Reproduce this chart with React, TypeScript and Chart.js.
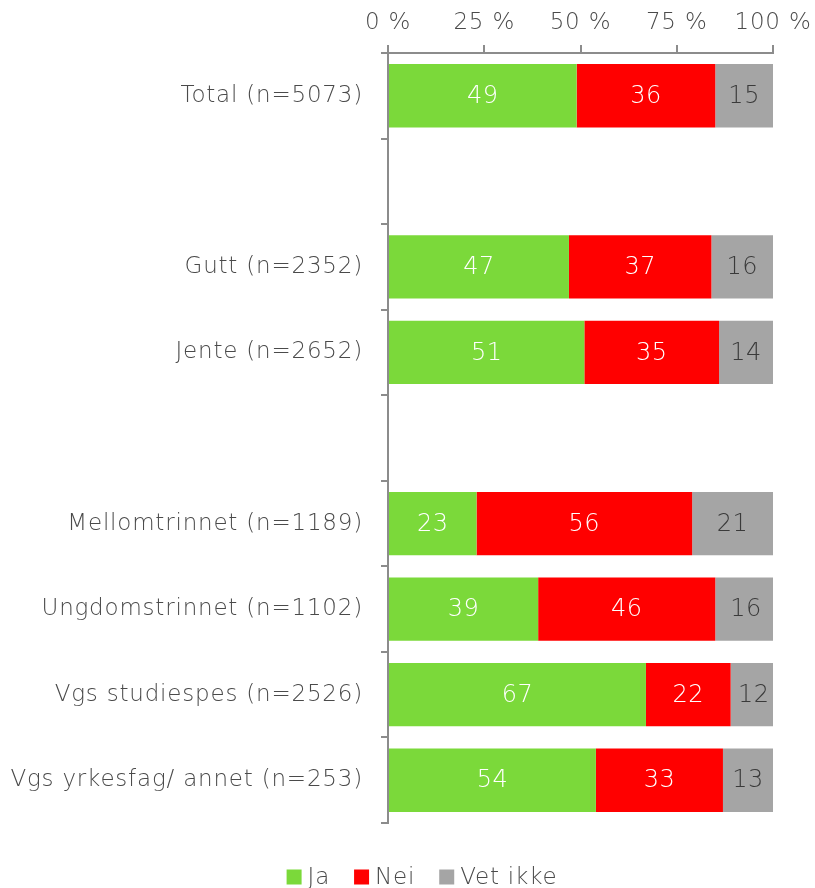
import React, { useEffect, useRef } from "react";
import { Chart, registerables } from "chart.js";

Chart.register(...registerables);

const categories = [
  "Total (n=5073)",
  "",
  "Gutt (n=2352)",
  "Jente (n=2652)",
  "",
  "Mellomtrinnet (n=1189)",
  "Ungdomstrinnet (n=1102)",
  "Vgs studiespes (n=2526)",
  "Vgs yrkesfag/ annet (n=253)",
];
const seriesNames = ["Ja", "Nei", "Vet ikke"];
const ja = [49, null, 47, 51, null, 23, 39, 67, 54];
const nei = [36, null, 37, 35, null, 56, 46, 22, 33];
const vetIkke = [15, null, 16, 14, null, 21, 16, 12, 13];
const xTicks = [0, 25, 50, 75, 100];
const colors = ["#7bd93a", "#ff0000", "#a5a5a5"];

const FONT = "'DejaVu Sans'";
const W = "200";
const TEXT = "#4a4a4a";
const SPACING = "0.8px";

const spacingPlugin = {
  id: "spacing",
  beforeDraw(chart: any) {
    chart.ctx.letterSpacing = SPACING;
  },
};

// Legend drawn from the chart's own datasets
const legendPlugin = {
  id: "customLegend",
  afterDraw(chart: any) {
    const ctx = chart.ctx;
    ctx.save();
    ctx.letterSpacing = SPACING;
    ctx.font = `${W} 23px ${FONT}`;
    ctx.textBaseline = "middle";
    ctx.textAlign = "left";
    const box = 15;
    const gapText = 6;
    const gapItem = 24;
    const items = chart.data.datasets.map((ds: any) => ({
      label: ds.label,
      color: ds.backgroundColor,
      w: ctx.measureText(ds.label).width,
    }));
    const total =
      items.reduce((a: number, it: any) => a + box + gapText + it.w, 0) + gapItem * (items.length - 1);
    const centerX = 422;
    const cy = 877;
    let x = centerX - total / 2;
    items.forEach((it: any) => {
      ctx.fillStyle = it.color;
      ctx.fillRect(x, cy - box / 2, box, box);
      ctx.fillStyle = TEXT;
      ctx.fillText(it.label, x + box + gapText, cy + 1);
      x += box + gapText + it.w + gapItem;
    });
    ctx.restore();
  },
};

const labelPlugin = {
  id: "barLabels",
  afterDatasetsDraw(chart: any) {
    const ctx = chart.ctx;
    ctx.save();
    ctx.letterSpacing = "0.5px";
    ctx.font = `${W} 24px ${FONT}`;
    ctx.textAlign = "center";
    ctx.textBaseline = "middle";
    chart.data.datasets.forEach((ds: any, di: number) => {
      const meta = chart.getDatasetMeta(di);
      meta.data.forEach((bar: any, i: number) => {
        const v = ds.data[i];
        if (v == null) return;
        const cx = (bar.x + bar.base) / 2;
        ctx.fillStyle = di === 2 ? "#3a3a3a" : "#ffffff";
        ctx.fillText(String(v), cx, bar.y + 1);
      });
    });
    ctx.restore();
  },
};

export default function App() {
  const ref = useRef<HTMLCanvasElement>(null);
  useEffect(() => {
    if (!ref.current) return;
    const chart = new Chart(ref.current, {
      type: "bar",
      data: {
        labels: categories,
        datasets: [
          { label: seriesNames[0], data: ja, backgroundColor: colors[0], borderWidth: 0 },
          { label: seriesNames[1], data: nei, backgroundColor: colors[1], borderWidth: 0 },
          { label: seriesNames[2], data: vetIkke, backgroundColor: colors[2], borderWidth: 0 },
        ] as any,
      },
      options: {
        indexAxis: "y",
        animation: false,
        responsive: false,
        maintainAspectRatio: false,
        layout: { padding: { left: 0, right: 42, top: 0, bottom: 65 } },
        datasets: { bar: { barPercentage: 0.74, categoryPercentage: 1 } } as any,
        scales: {
          x: {
            position: "top",
            stacked: true,
            min: 0,
            max: 100,
            afterBuildTicks: (s: any) => {
              s.ticks = xTicks.map((v) => ({ value: v }));
            },
            afterFit: (s: any) => {
              s.height = 53;
              s.paddingRight = 0;
              s.paddingLeft = 0;
            },
            ticks: {
              callback: (v: any) => v + " %",
              color: TEXT,
              font: { family: FONT, size: 23, weight: W },
              padding: 8,
              maxRotation: 0,
            },
            grid: { drawOnChartArea: false, tickLength: 8, color: "#8c8c8c", lineWidth: 2 },
            border: { color: "#8c8c8c", width: 2 },
          },
          y: {
            stacked: true,
            afterFit: (s: any) => {
              s.width = 388;
              s.paddingTop = 0;
              s.paddingBottom = 0;
            },
            ticks: {
              color: TEXT,
              font: { family: FONT, size: 23, weight: W },
              padding: 18,
              autoSkip: false,
            },
            grid: { offset: true, drawOnChartArea: false, tickLength: 7, color: "#8c8c8c", lineWidth: 2 },
            border: { color: "#8c8c8c", width: 2 },
          },
        },
        plugins: {
          legend: { display: false },
          tooltip: { enabled: false },
        },
      } as any,
      plugins: [spacingPlugin, labelPlugin, legendPlugin],
    });
    return () => chart.destroy();
  }, []);
  return (
    <div style={{ position: "fixed", left: 0, top: 0, width: 815, height: 888, background: "#fff" }}>
      <canvas ref={ref} width={815} height={888} />
    </div>
  );
}
